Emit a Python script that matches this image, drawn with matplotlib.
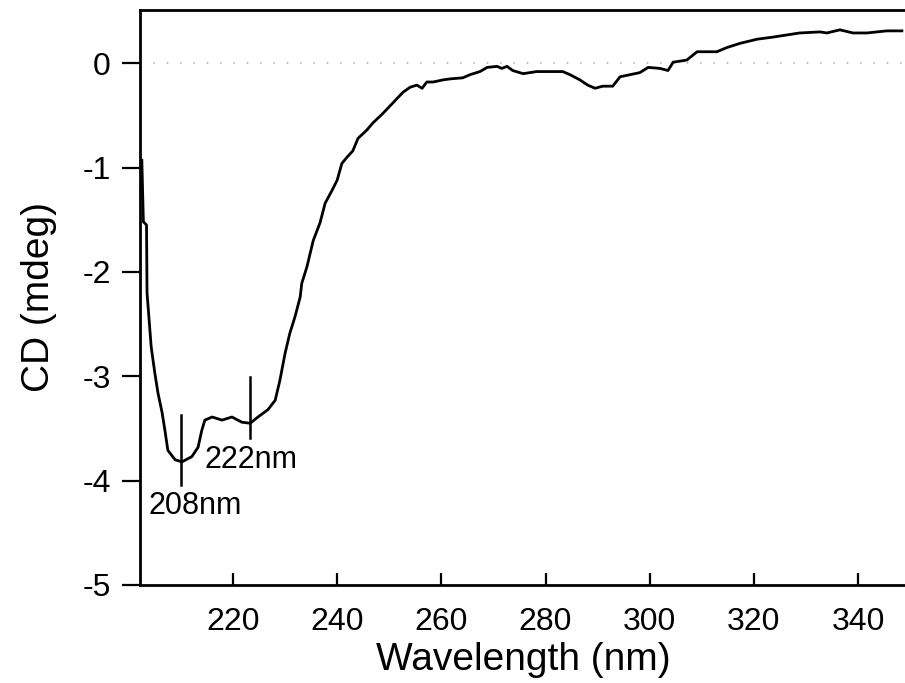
import matplotlib.pyplot as plt

# CD spectrum (wavelength in nm, CD in mdeg)
wavelength = [
    202.5, 202.8, 203.4, 203.5, 204.3, 205.0, 205.6, 206.4, 207.0, 207.5,
    208.9, 210.2, 212.1, 213.3, 214.0, 214.6, 216.0, 217.9, 219.8, 221.7,
    223.3, 224.8, 226.7, 228.1, 229.0, 230.0, 230.9, 231.9, 232.9, 233.2,
    234.2, 235.4, 236.7, 237.7, 239.0, 240.0, 240.9, 241.9, 243.0, 244.0,
    245.7, 246.9, 248.8, 250.7, 252.6, 254.0, 255.3, 256.3, 257.2, 258.4,
    260.3, 261.7, 264.1, 265.5, 267.4, 268.8, 270.7, 271.6, 272.6, 273.7,
    275.7, 277.0, 278.3, 280.8, 283.3, 284.7, 286.6, 288.1, 289.5, 291.0,
    292.9, 294.3, 296.2, 298.1, 299.7, 302.0, 303.5, 304.5, 307.1, 309.1,
    312.9, 314.8, 317.3, 320.6, 323.6, 328.8, 332.7, 334.0, 336.5, 339.0,
    341.7, 345.5, 348.4,
]
cd = [
    -0.93, -1.52, -1.55, -2.20, -2.72, -2.97, -3.16, -3.35, -3.54, -3.71,
    -3.80, -3.82, -3.77, -3.68, -3.52, -3.42, -3.39, -3.42, -3.39, -3.44,
    -3.45, -3.39, -3.32, -3.23, -3.04, -2.78, -2.59, -2.43, -2.24, -2.11,
    -1.95, -1.70, -1.53, -1.34, -1.22, -1.12, -0.96, -0.90, -0.84, -0.72,
    -0.64, -0.57, -0.48, -0.38, -0.28, -0.23, -0.21, -0.24, -0.18, -0.18,
    -0.16, -0.15, -0.14, -0.11, -0.08, -0.04, -0.03, -0.05, -0.03, -0.07,
    -0.10, -0.09, -0.08, -0.08, -0.08, -0.11, -0.16, -0.21, -0.24, -0.22,
    -0.22, -0.13, -0.11, -0.09, -0.04, -0.05, -0.07, 0.01, 0.03, 0.11,
    0.11, 0.15, 0.19, 0.23, 0.25, 0.29, 0.30, 0.29, 0.32, 0.29,
    0.29, 0.31, 0.31,
]

# peak markers: label, x position on the axis, vertical extent of the marker
marker_labels = ["208nm", "222nm"]
marker_x = [210.0, 223.3]
marker_low = [-4.04, -3.59]
marker_high = [-3.37, -3.01]
label_x = [203.7, 214.6]
label_y = [-4.24, -3.80]

x_ticks = [220, 240, 260, 280, 300, 320, 340]
y_ticks = [0, -1, -2, -3, -4, -5]

plt.rcParams["font.family"] = ["Liberation Sans", "DejaVu Sans"]

fig = plt.figure(figsize=(9.05, 6.83), dpi=100)
ax = fig.add_axes([140 / 905, 98 / 683, 765 / 905, 575 / 683])

ax.axhline(0, color="#b8b8b8", linewidth=1.2, linestyle=(0, (1, 7)), zorder=1)
ax.plot(wavelength, cd, color="black", linewidth=2.0, zorder=3)

for lab, mx, lo, hi, tx, ty in zip(marker_labels, marker_x, marker_low, marker_high, label_x, label_y):
    ax.plot([mx, mx], [lo, hi], color="black", linewidth=1.8, zorder=3)
    ax.text(tx, ty, lab, fontsize=22, ha="left", va="center")

ax.set_xlim(202.15, 349.0)
ax.set_ylim(-5, 0.51)
ax.set_xticks(x_ticks)
ax.set_yticks(y_ticks)
ax.set_yticklabels([str(v) for v in y_ticks])

ax.spines["right"].set_visible(False)
for side in ("left", "top", "bottom"):
    ax.spines[side].set_linewidth(2.0)

ax.tick_params(axis="x", direction="in", length=9, width=1.6, pad=16, labelsize=23)
ax.tick_params(axis="y", direction="out", length=13, width=1.6, pad=8, labelsize=23)

ax.set_xlabel("Wavelength (nm)", fontsize=28)
ax.set_ylabel("CD (mdeg)", fontsize=28)
ax.xaxis.set_label_coords(0.5007, -0.099)
ax.yaxis.set_label_coords(-0.108, 0.5)

fig.savefig("out.png", dpi=100)
